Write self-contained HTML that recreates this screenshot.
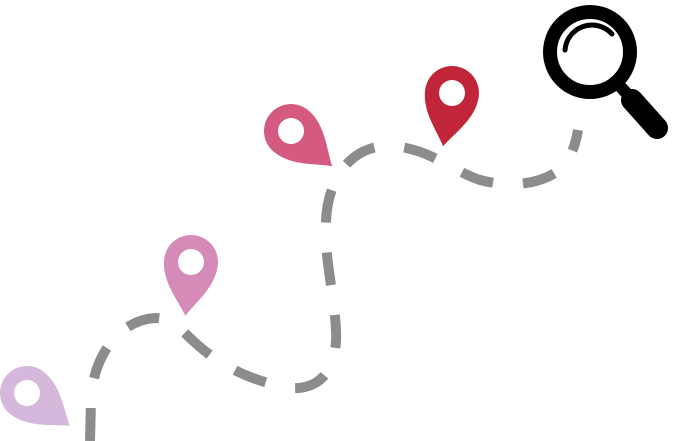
<!DOCTYPE html>
<html><head><style>html,body{margin:0;padding:0;background:#fff;}svg{display:block}</style></head>
<body>
<svg width="678" height="441" viewBox="0 0 678 441" xmlns="http://www.w3.org/2000/svg">
<defs>
<path id="pin" d="M0,54 C-10,38 -27,22 -27,0 A27,27 0 0 1 27,0 C27,22 10,38 0,54Z"/>
</defs>
<path d="M90,441 L91,400 C93,355 120,320 155,318 C170,318 180,328 190,338 C215,362 245,380 290,388 C320,390 338,370 336,330 C334,290 324,260 326,220 C328,180 350,145 390,146 C430,148 450,170 480,180 C510,188 545,185 565,165 C572,155 576,142 578,130"
 fill="none" stroke="#8c8c8c" stroke-width="10" stroke-dasharray="33,30"/>
<g fill="#d5b8dc" transform="translate(27,393) rotate(-52.5)"><use href="#pin"/></g>
<circle cx="27" cy="393" r="13" fill="#fff"/>
<g fill="#d48bb8" transform="translate(191,262) rotate(6)"><use href="#pin"/></g>
<circle cx="191" cy="262" r="13" fill="#fff"/>
<g fill="#d45a80" transform="translate(291,131) rotate(-49.5)"><use href="#pin"/></g>
<circle cx="291" cy="131" r="13" fill="#fff"/>
<g fill="#c0253a" transform="translate(452,93) rotate(9.5)"><use href="#pin"/></g>
<circle cx="452" cy="93" r="13" fill="#fff"/>
<circle cx="590" cy="52" r="40" fill="none" stroke="#000" stroke-width="14"/>
<path d="M565,50 A27,27 0 0 1 612,34" fill="none" stroke="#000" stroke-width="5" stroke-linecap="round"/>
<line x1="618" y1="84" x2="630" y2="97" stroke="#000" stroke-width="12"/>
<line x1="632" y1="100" x2="657" y2="128" stroke="#000" stroke-width="22" stroke-linecap="round"/>
</svg>
</body></html>
